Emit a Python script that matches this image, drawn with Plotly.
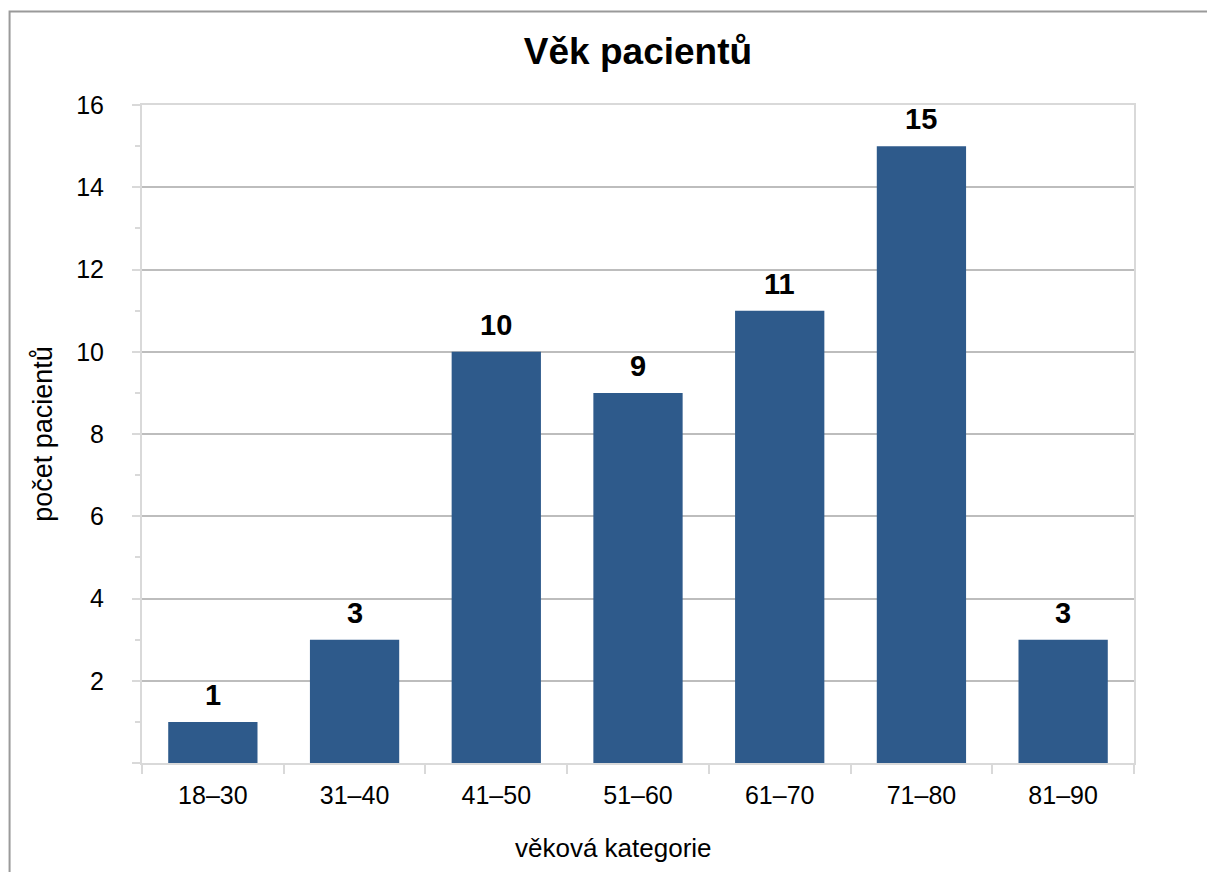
import plotly.graph_objects as go

# Patient counts per age group
age_groups = ["18–30", "31–40", "41–50", "51–60", "61–70", "71–80", "81–90"]
patient_counts = [1, 3, 10, 9, 11, 15, 3]
y_tick_values = [0, 2, 4, 6, 8, 10, 12, 14, 16]
y_tick_labels = ["", "2", "4", "6", "8", "10", "12", "14", "16"]

FONT = "Liberation Sans, Arial, Helvetica, sans-serif"
BAR_COLOR = "#2e5a8b"
AXIS_COLOR = "#d9d9d9"
GRID_COLOR = "#bdbdbd"

fig = go.Figure()
fig.add_trace(go.Bar(
    x=age_groups,
    y=patient_counts,
    marker=dict(color=BAR_COLOR, line=dict(width=0)),
    hoverinfo="x+y",
))

# value labels above each bar
for cat, val in zip(age_groups, patient_counts):
    fig.add_annotation(
        x=cat, y=val, text=f"<b>{val}</b>", showarrow=False,
        yanchor="bottom", yshift=9,
        font=dict(family=FONT, size=29, color="black"),
    )

# x axis caption, set slightly left of the plot centre
fig.add_annotation(
    xref="paper", yref="paper", x=0.4748, y=-0.129,
    xanchor="center", yanchor="middle", showarrow=False,
    text="věková kategorie",
    font=dict(family=FONT, size=26, color="black"),
)

# outer frame of the chart
fig.add_shape(
    type="rect", xref="paper", yref="paper",
    x0=-0.1335, x1=1.09, y0=-0.2, y1=1.1422,
    line=dict(color="#9a9a9a", width=2), fillcolor="rgba(0,0,0,0)",
    layer="below",
)

fig.update_layout(
    width=1207, height=872,
    margin=dict(l=142, r=73, t=105, b=109),
    paper_bgcolor="white", plot_bgcolor="white",
    bargap=0.37,
    showlegend=False,
    font=dict(family=FONT, color="black"),
    title=dict(
        text="<b>Věk pacientů</b>", x=0.5, xanchor="center",
        xref="paper", y=1 - 51 / 872, yanchor="middle", yref="container",
        font=dict(family=FONT, size=37, color="black"),
    ),
    xaxis=dict(
        type="category",
        showline=True, linecolor=AXIS_COLOR, linewidth=2, mirror=True,
        ticks="outside", tickson="boundaries", ticklen=9, tickwidth=2,
        tickcolor=AXIS_COLOR,
        showgrid=False,
        tickfont=dict(family=FONT, size=25, color="black"),
        ticklabelstandoff=9,
    ),
    yaxis=dict(
        range=[0, 16],
        showline=True, linecolor=AXIS_COLOR, linewidth=2, mirror=True,
        tickmode="array", tickvals=y_tick_values, ticktext=y_tick_labels,
        ticks="outside", ticklen=8, tickwidth=2, tickcolor=AXIS_COLOR,
        showgrid=True, gridcolor=GRID_COLOR, gridwidth=2,
        zeroline=False,
        tickfont=dict(family=FONT, size=25, color="black"),
        ticklabelstandoff=23,
        minor=dict(tickmode="linear", tick0=1, dtick=2, ticks="outside",
                   ticklen=5, tickwidth=2, tickcolor=AXIS_COLOR,
                   showgrid=False),
        title=dict(text="počet pacientů", standoff=16,
                   font=dict(family=FONT, size=27, color="black")),
    ),
)

fig.write_html("out.html")
